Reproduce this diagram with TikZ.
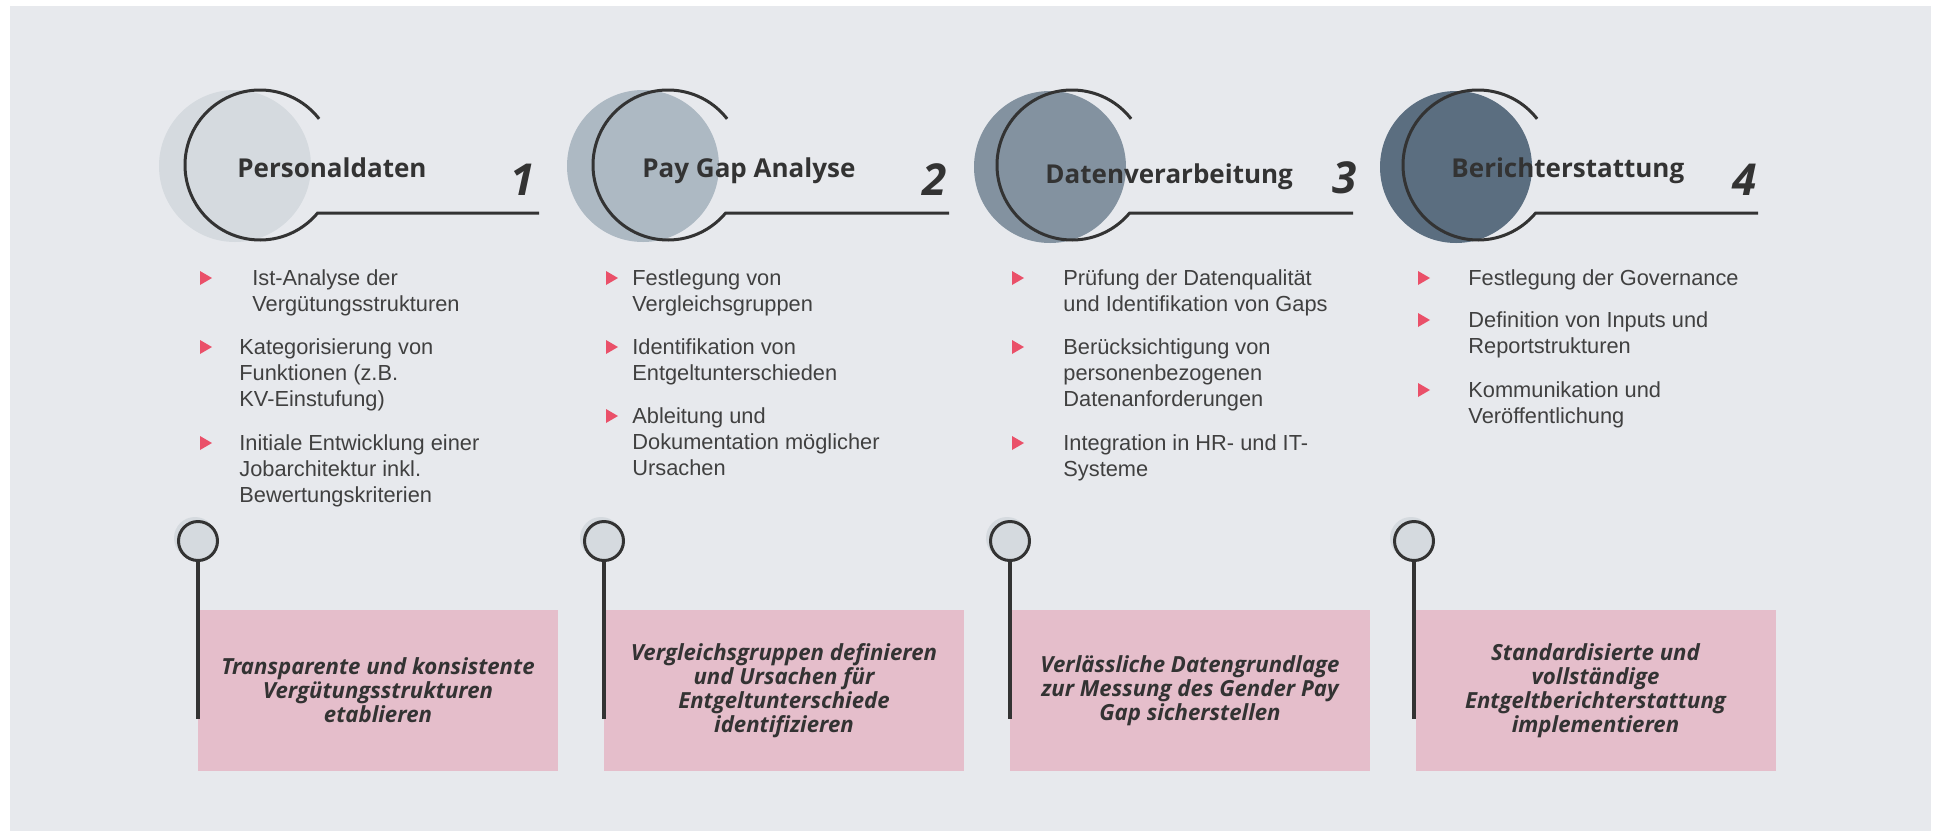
\documentclass[tikz,border=0pt]{standalone}
\usepackage{fontspec}
\setmainfont{Liberation Sans}
\newfontfamily\titlefont{Open Sans}
\definecolor{bg}{HTML}{E7E9ED}
\definecolor{ink}{HTML}{333333}
\definecolor{bodyink}{HTML}{404040}
\definecolor{cA}{HTML}{D5DADF}
\definecolor{cB}{HTML}{ADB9C3}
\definecolor{cC}{HTML}{8392A0}
\definecolor{cD}{HTML}{5B6E80}
\definecolor{boxpink}{HTML}{E5BECB}
\definecolor{tri}{HTML}{EA5069}
% #1 = x of bullet, #2 = first baseline (image px)
\newcommand\bulmark[2]{\fill[tri] (#1,{-#2+14}) -- (#1,{-#2}) -- ({#1+12},{-#2+7}) -- cycle;}
\begin{document}
\begin{tikzpicture}[x=0.5pt,y=0.5pt,
 ring/.style={draw=ink,line width=1.5pt},
 title/.style={anchor=base west,inner sep=0,font=\titlefont\bfseries\fontsize{13}{16}\selectfont,text=ink},
 num/.style={anchor=base east,inner sep=0,font=\titlefont\bfseries\itshape\fontsize{22}{26}\selectfont,text=ink},
 item/.style={anchor=base west,inner sep=0,align=left,font=\fontsize{10.9}{13.15}\selectfont,text=bodyink},
 goal/.style={rectangle,fill=boxpink,minimum width=180pt,minimum height=80.5pt,align=center,inner sep=0,font=\titlefont\bfseries\itshape\fontsize{11.1}{12}\selectfont,text=ink},
 pin/.style={circle,draw=ink,line width=1.5pt,fill=cA,minimum size=19.5pt,inner sep=0},
 stem/.style={draw=ink,line width=1.6pt},
]
\useasboundingbox (0,0) rectangle (1934,-831);
\fill[white] (0,0) rectangle (1934,-831);
\fill[bg] (10,-6) rectangle (1931,-831);

% ---------- column 1
\fill[cA] (235,-166) circle (76);
\draw[ring] (260,-165) ++(38:75) arc[start angle=38,end angle=320,radius=75] -- (539,-213.2);
\node[title] (t1) at (237,-177) {Personaldaten};
\node[num] (n1) at (535,-195) {1};
\bulmark{200}{285}\node[item] (i11) at (252,-311.3) {Ist-Analyse der\\Vergütungsstrukturen};
\bulmark{200}{354}\node[item] (i12) at (239,-406.6) {Kategorisierung von\\Funktionen (z.B.\\KV-Einstufung)};
\bulmark{200}{450}\node[item] (i13) at (239,-502.6) {Initiale Entwicklung einer\\Jobarchitektur inkl.\\Bewertungskriterien};
\node[goal] (g1) at (378,-690.5) {Transparente und konsistente\\Vergütungsstrukturen\\etablieren};
\fill[cA] (195,-538) circle (21);
\node[pin] (p1) at (198,-541) {};
\coordinate (s1) at (198,-719);
\draw[stem] (p1.south) -- (s1);

% ---------- column 2
\fill[cB] (643,-166) circle (76);
\draw[ring] (668,-165) ++(38:75) arc[start angle=38,end angle=320,radius=75] -- (949,-213.2);
\node[title] (t2) at (642,-177) {Pay Gap Analyse};
\node[num] (n2) at (947,-195) {2};
\bulmark{606}{285}\node[item] (i21) at (632,-311.3) {Festlegung von\\Vergleichsgruppen};
\bulmark{606}{354}\node[item] (i22) at (632,-380.3) {Identifikation von\\Entgeltunterschieden};
\bulmark{606}{423}\node[item] (i23) at (632,-475.6) {Ableitung und\\Dokumentation möglicher\\Ursachen};
\node[goal] (g2) at (784,-690.5) {Vergleichsgruppen definieren\\und Ursachen für\\Entgeltunterschiede\\identifizieren};
\fill[cA] (601,-538) circle (21);
\node[pin] (p2) at (604,-541) {};
\coordinate (s2) at (604,-719);
\draw[stem] (p2.south) -- (s2);

% ---------- column 3
\fill[cC] (1050,-167) circle (76);
\draw[ring] (1072,-165) ++(38:75) arc[start angle=38,end angle=320,radius=75] -- (1353,-213.2);
\node[title] (t3) at (1045,-183) {Datenverarbeitung};
\node[num] (n3) at (1357,-193) {3};
\bulmark{1012}{285}\node[item] (i31) at (1063,-311.3) {Prüfung der Datenqualität\\und Identifikation von Gaps};
\bulmark{1012}{354}\node[item] (i32) at (1063,-406.6) {Berücksichtigung von\\personenbezogenen\\Datenanforderungen};
\bulmark{1012}{450}\node[item] (i33) at (1063,-476.3) {Integration in HR- und IT-\\Systeme};
\node[goal] (g3) at (1190,-690.5) {Verlässliche Datengrundlage\\zur Messung des Gender Pay\\Gap sicherstellen};
\fill[cA] (1007,-538) circle (21);
\node[pin] (p3) at (1010,-541) {};
\coordinate (s3) at (1010,-719);
\draw[stem] (p3.south) -- (s3);

% ---------- column 4
\fill[cD] (1456,-167) circle (76);
\draw[ring] (1478,-165) ++(38:75) arc[start angle=38,end angle=320,radius=75] -- (1758,-213.2);
\node[title] (t4) at (1451,-177) {Berichterstattung};
\node[num] (n4) at (1757,-195) {4};
\bulmark{1418}{285}\node[item] (i41) at (1468,-285) {Festlegung der Governance};
\bulmark{1418}{327}\node[item] (i42) at (1468,-353.3) {Definition von Inputs und\\Reportstrukturen};
\bulmark{1418}{397}\node[item] (i43) at (1468,-423.3) {Kommunikation und\\Veröffentlichung};
\node[goal] (g4) at (1595.5,-690.5) {Standardisierte und\\vollständige\\Entgeltberichterstattung\\implementieren};
\fill[cA] (1411,-538) circle (21);
\node[pin] (p4) at (1414,-541) {};
\coordinate (s4) at (1414,-719);
\draw[stem] (p4.south) -- (s4);
\end{tikzpicture}
\end{document}
